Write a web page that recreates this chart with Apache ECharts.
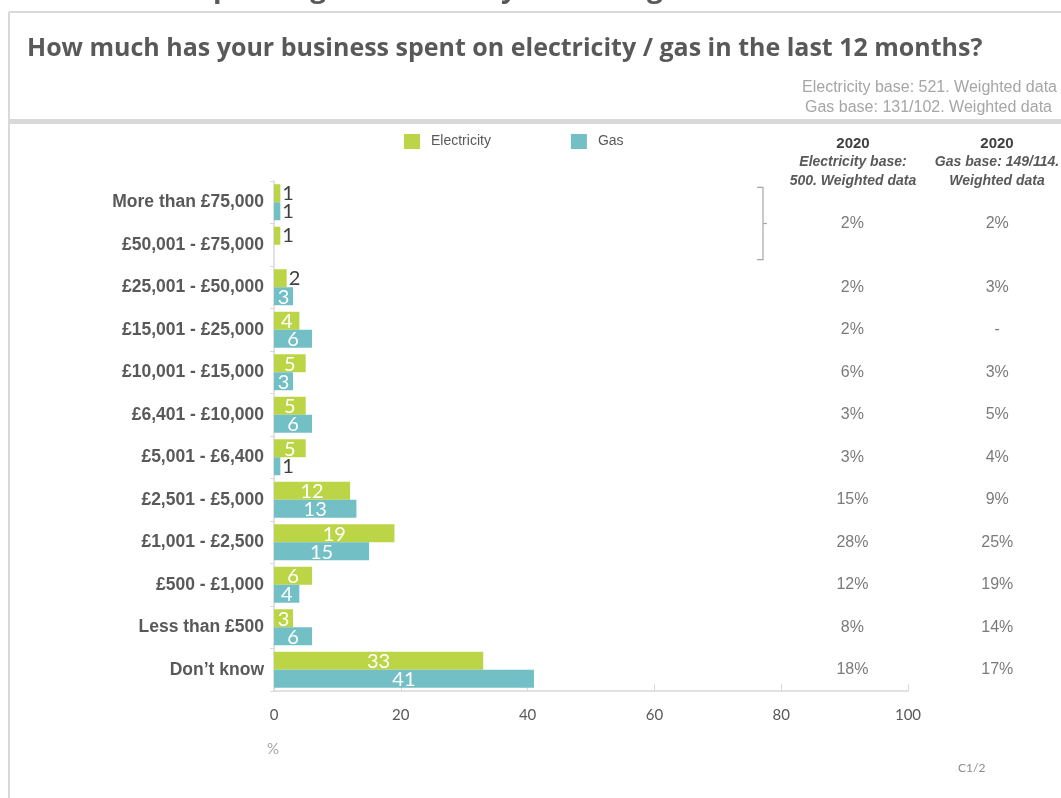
<!DOCTYPE html>
<html>
<head>
<meta charset="utf-8">
<script src="https://cdn.jsdelivr.net/npm/echarts@6/dist/echarts.min.js"></script>
<style>
  html, body { margin: 0; padding: 0; background: #fff; }
  #chart { width: 1061px; height: 798px; }
</style>
</head>
<body>
<div id="chart"></div>
<script>
// Spending bands, top to bottom
const categories = [
  'More than £75,000', '£50,001 - £75,000', '£25,001 - £50,000', '£15,001 - £25,000',
  '£10,001 - £15,000', '£6,401 - £10,000', '£5,001 - £6,400', '£2,501 - £5,000',
  '£1,001 - £2,500', '£500 - £1,000', 'Less than £500', 'Don’t know'
];
// Share of businesses (%), current wave
const electricity = [1, 1, 2, 4, 5, 5, 5, 12, 19, 6, 3, 33];
const gas = [1, null, 3, 6, 3, 6, 1, 13, 15, 4, 6, 41];
const xTicks = [0, 20, 40, 60, 80, 100];

// 2020 comparison table; the first cell covers the two top bands
const tableSpans = [[0, 1], [2, 2], [3, 3], [4, 4], [5, 5], [6, 6], [7, 7], [8, 8], [9, 9], [10, 10], [11, 11]];
const electricity2020 = ['2%', '2%', '2%', '6%', '3%', '3%', '15%', '28%', '12%', '8%', '18%'];
const gas2020 = ['2%', '3%', '-', '3%', '5%', '4%', '9%', '25%', '19%', '14%', '17%'];

const GREEN = '#bcd546';
const TEAL = '#72bfc6';
const TEXT = '#595959';
const RULE = '#d9d9d9';

function barLabel(params) {
  return params.value;
}
function labelFor(value) {
  // small bars carry their value just outside in dark text
  if (value <= 2) {
    return { show: true, position: 'right', distance: 2, color: '#404040', fontSize: 20, fontFamily: 'Lato' };
  }
  return { show: true, position: 'inside', offset: [0, 1], color: '#ffffff', fontSize: 20, fontFamily: 'Lato' };
}
function toBarData(values) {
  return values.map(v => v == null ? null : { value: v, label: labelFor(v) });
}

// table cells sit in column slots 0.5 / 1.5 at the middle of the rows they cover
function tableData(col, values) {
  return values.map((text, i) => {
    const span = tableSpans[i];
    return { value: [col + 0.5, (span[0] + span[1] + 1) / 2], text: text };
  });
}

const chart = echarts.init(document.getElementById('chart'), null, { renderer: 'canvas' });

const tableLabel = {
  show: true, position: 'inside', formatter: p => p.data.text,
  color: TEXT, fontSize: 16, fontFamily: 'Liberation Sans'
};

const option = {
  backgroundColor: '#ffffff',
  animation: false,
  legend: {
    top: 134,
    left: 404,
    padding: 0,
    itemWidth: 16,
    itemHeight: 15,
    itemGap: 80,
    icon: 'rect',
    data: ['Electricity', 'Gas'],
    textStyle: { color: TEXT, fontSize: 14, fontFamily: 'Liberation Sans', padding: [0, 0, 0, 6] }
  },
  grid: [
    { left: 274, right: 153, top: 181, bottom: 107 },
    { left: 780, right: 0, top: 181, bottom: 107 }
  ],
  xAxis: [
    {
      gridIndex: 0,
      type: 'value',
      min: xTicks[0],
      max: xTicks[xTicks.length - 1],
      interval: xTicks[1] - xTicks[0],
      axisLine: { show: true, lineStyle: { color: RULE, width: 1.5 } },
      axisTick: { show: true, inside: true, length: 7, lineStyle: { color: RULE } },
      splitLine: { show: false },
      axisLabel: { color: TEXT, fontSize: 15, fontFamily: 'Lato', margin: 17 }
    },
    {
      gridIndex: 1,
      type: 'value',
      min: 0,
      max: 1.94,
      show: false
    }
  ],
  yAxis: [
    {
      gridIndex: 0,
      type: 'category',
      inverse: true,
      data: categories,
      axisLine: { show: true, lineStyle: { color: RULE, width: 1.5 } },
      axisTick: { show: true, length: 4, lineStyle: { color: RULE } },
      axisLabel: { color: TEXT, fontSize: 17.5, fontWeight: 'bold', fontFamily: 'Liberation Sans', margin: 10 }
    },
    {
      gridIndex: 1,
      type: 'value',
      inverse: true,
      min: 0,
      max: categories.length,
      show: false
    }
  ],
  series: [
    {
      name: 'Electricity',
      type: 'bar',
      xAxisIndex: 0, yAxisIndex: 0,
      data: toBarData(electricity),
      barWidth: 18,
      barGap: '0%',
      itemStyle: { color: GREEN },
      label: { show: true, formatter: barLabel }
    },
    {
      name: 'Gas',
      type: 'bar',
      xAxisIndex: 0, yAxisIndex: 0,
      data: toBarData(gas),
      barWidth: 18,
      barGap: '0%',
      itemStyle: { color: TEAL },
      label: { show: true, formatter: barLabel }
    },
    {
      name: 'Electricity 2020',
      type: 'scatter',
      xAxisIndex: 1, yAxisIndex: 1,
      symbolSize: 0,
      silent: true,
      data: tableData(0, electricity2020),
      label: tableLabel
    },
    {
      name: 'Gas 2020',
      type: 'scatter',
      xAxisIndex: 1, yAxisIndex: 1,
      symbolSize: 0,
      silent: true,
      data: tableData(1, gas2020),
      label: tableLabel
    }
  ],
  graphic: [
    // page frame and header band
    { type: 'line', silent: true, shape: { x1: 9, y1: 12, x2: 9, y2: 798 }, style: { stroke: RULE, lineWidth: 2 } },
    { type: 'line', silent: true, shape: { x1: 9, y1: 12, x2: 1061, y2: 12 }, style: { stroke: RULE, lineWidth: 2 } },
    { type: 'rect', silent: true, shape: { x: 9, y: 119, width: 1052, height: 5 }, style: { fill: RULE } },
    // section heading, cut by the page edge
    { type: 'text', silent: true, left: -3, top: -25,
      style: { text: 'C 4.7 Business spending on electricity/ natural gas', fill: TEXT, font: 'bold 28px "Open Sans"' } },
    // question
    { type: 'text', silent: true, left: 27, top: 36,
      style: { text: 'How much has your business spent on electricity / gas in the last 12 months?', fill: TEXT, font: 'bold 25px "Open Sans"' } },
    // bases
    { type: 'text', silent: true, right: 4, top: 80,
      style: { text: 'Electricity base: 521. Weighted data', fill: '#a6a6a6', font: '16px "Liberation Sans"', align: 'right' } },
    { type: 'text', silent: true, right: 9, top: 100,
      style: { text: 'Gas base: 131/102. Weighted data', fill: '#a6a6a6', font: '16px "Liberation Sans"', align: 'right' } },
    // table headers
    { type: 'text', silent: true, x: 853, y: 136,
      style: { text: '2020', fill: '#404040', font: 'bold 15px "Liberation Sans"', align: 'center' } },
    { type: 'text', silent: true, x: 853, y: 153,
      style: { text: 'Electricity base:\n500. Weighted data', fill: TEXT, font: 'italic bold 14px "Liberation Sans"', align: 'center', lineHeight: 19 } },
    { type: 'text', silent: true, x: 997, y: 136,
      style: { text: '2020', fill: '#404040', font: 'bold 15px "Liberation Sans"', align: 'center' } },
    { type: 'text', silent: true, x: 997, y: 153,
      style: { text: 'Gas base: 149/114.\nWeighted data', fill: TEXT, font: 'italic bold 14px "Liberation Sans"', align: 'center', lineHeight: 19 } },
    // axis unit and page code
    { type: 'text', silent: true, x: 267, y: 742,
      style: { text: '%', fill: '#a6a6a6', font: '15px "Lato"' } },
    { type: 'text', silent: true, x: 958, y: 762,
      style: { text: 'C1/2', fill: '#8c8c8c', font: '12px "Lato"' } }
  ]
};

chart.setOption(option);

// bracket joining the two top bands to the shared 2020 cell
const yTop = chart.convertToPixel({ yAxisIndex: 1 }, 0.15);
const yBot = chart.convertToPixel({ yAxisIndex: 1 }, 1.85);
const yMid = chart.convertToPixel({ yAxisIndex: 1 }, 1);
chart.setOption({
  graphic: option.graphic.concat([
    { type: 'polyline', silent: true, shape: { points: [[757, yTop], [763, yTop], [763, yBot], [757, yBot]] },
      style: { stroke: '#a6a6a6', lineWidth: 1.2, fill: null } },
    { type: 'line', silent: true, shape: { x1: 763, y1: yMid, x2: 767, y2: yMid },
      style: { stroke: '#a6a6a6', lineWidth: 1.2 } }
  ])
});
</script>
</body>
</html>
